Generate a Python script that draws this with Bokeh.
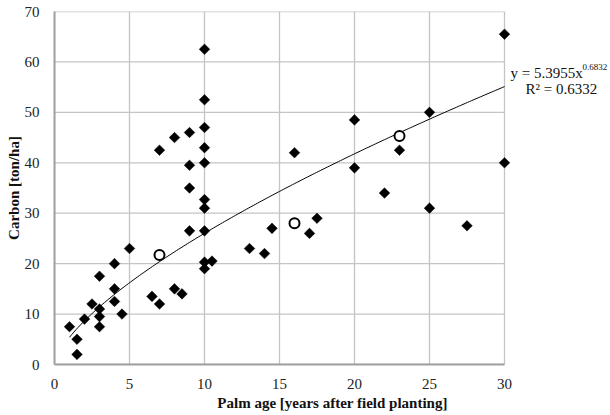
import numpy as np
from bokeh.plotting import figure
from bokeh.models import Range1d, FixedTicker, Label, ColumnDataSource
from bokeh.embed import file_html
from bokeh.resources import INLINE

# Data
palm_age = [1, 1.5, 1.5, 2, 2.5, 3, 3, 3, 3, 4, 4, 4, 4.5, 5, 6.5, 7, 7, 8, 8, 8.5,
            9, 9, 9, 9, 10, 10, 10, 10, 10, 10, 10, 10, 10, 10, 10.5, 13, 14, 14.5,
            16, 17, 17.5, 20, 20, 22, 23, 25, 25, 27.5, 30, 30]
carbon = [7.5, 5, 2, 9, 12, 17.5, 11, 9.5, 7.5, 20, 15, 12.5, 10, 23, 13.5, 12, 42.5, 45, 15, 14,
          46, 39.5, 35, 26.5, 62.5, 52.5, 47, 43, 40, 32.7, 31, 26.5, 20.3, 19, 20.5, 23, 22, 27,
          42, 26, 29, 48.5, 39, 34, 42.5, 50, 31, 27.5, 65.5, 40]

mean_age = [7, 16, 23]
mean_carbon = [21.7, 28, 45.3]

# Trendline y = a * x^b (as shown on the chart)
coef_a = 5.3955
coef_b = 0.6832
r_squared = 0.6332
trend_x_start = 1
trend_x_end = 30

x_ticks = [0, 5, 10, 15, 20, 25, 30]
y_ticks = [0, 10, 20, 30, 40, 50, 60, 70]

FONT = "Liberation Serif"
GRID = "#c4c4c4"

x_max = x_ticks[-1]
y_max = y_ticks[-1]

p = figure(frame_width=556, frame_height=353, width=610, height=415,
           min_border_left=54, min_border_right=0, min_border_top=11, min_border_bottom=51,
           x_range=Range1d(0, 556 / 15), y_range=Range1d(0, y_max),
           output_backend="svg", toolbar_location=None)

p.xgrid.visible = False
p.ygrid.visible = False
p.outline_line_color = None

# Grid lines limited to the data area
p.segment(x0=x_ticks, y0=[0] * len(x_ticks), x1=x_ticks, y1=[y_max] * len(x_ticks),
          line_color=GRID, line_width=1.3)
p.segment(x0=[0] * len(y_ticks), y0=y_ticks, x1=[x_max] * len(y_ticks), y1=y_ticks,
          line_color=GRID, line_width=1.3)

p.xaxis.ticker = FixedTicker(ticks=x_ticks)
p.yaxis.ticker = FixedTicker(ticks=y_ticks)
p.xaxis.bounds = (0, x_max)

for ax in (p.xaxis, p.yaxis):
    ax.axis_line_color = "#a0a0a0"
    ax.axis_line_width = 2
    ax.major_tick_line_color = None
    ax.minor_tick_line_color = None
    ax.major_label_text_font = FONT
    ax.major_label_text_font_size = "15px"
    ax.major_label_text_color = "#222222"
    ax.axis_label_text_font = FONT
    ax.axis_label_text_font_size = "15px"
    ax.axis_label_text_font_style = "bold"
    ax.axis_label_text_color = "#111111"

p.xaxis.major_label_standoff = 8
p.yaxis.major_label_standoff = 9
p.xaxis.axis_label = "Palm age [years after field planting]"
p.yaxis.axis_label = "Carbon [ton/ha]"
p.xaxis.axis_label_standoff = 3
p.yaxis.axis_label_standoff = 0

# Trendline
tx = np.linspace(trend_x_start, trend_x_end, 200)
ty = coef_a * tx ** coef_b
p.line(tx, ty, line_color="black", line_width=1)

# Diamonds
src = ColumnDataSource(dict(x=palm_age, y=carbon))
p.scatter("x", "y", source=src, marker="square", angle=np.pi / 4, size=7.5,
          fill_color="black", line_color="black", line_width=0.5)

# Open circles
p.scatter(mean_age, mean_carbon, marker="circle", size=10, fill_color="white",
          line_color="black", line_width=2)

# Equation text
p.add_layout(Label(x=30.4, y=57.9, text=f"y = {coef_a}x", text_font=FONT,
                   text_font_size="15px", text_baseline="middle", text_color="#111111"))
p.add_layout(Label(x=35.2, y=58.9, text=f"{coef_b}", text_font=FONT,
                   text_font_size="9px", text_baseline="middle", text_color="#111111"))
p.add_layout(Label(x=31.4, y=54.6, text=f"R² = {r_squared}", text_font=FONT,
                   text_font_size="15px", text_baseline="middle", text_color="#111111"))

open("out.html", "w").write(file_html(p, INLINE))
